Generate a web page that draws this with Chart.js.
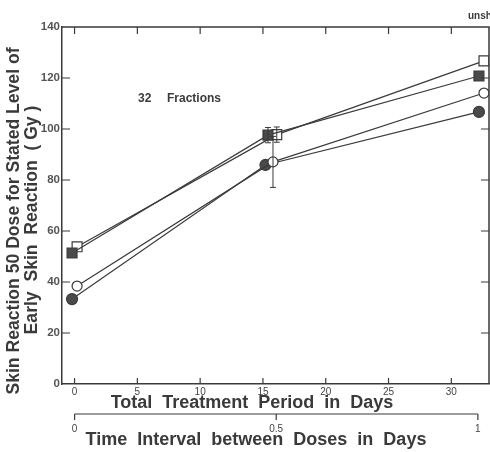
<!DOCTYPE html>
<html>
<head>
<meta charset="utf-8">
<script src="https://cdn.jsdelivr.net/npm/chart.js@4.4.1/dist/chart.umd.min.js"></script>
<style>
    html, body { margin: 0; padding: 0; background: #fff; }
    #wrap { width: 490px; height: 452px; position: relative; }
</style>
</head>
<body>
<div id="wrap"><canvas id="chart"></canvas></div>
<script>
// Days of treatment for each series (markers are slightly offset in the original)
const filledSquareDays = [-0.2, 15.4, 32.2];
const openSquareDays = [0.2, 16.1, 32.6];
const openCircleDays = [0.2, 15.8, 32.6];
const filledCircleDays = [-0.2, 15.2, 32.2];

// Skin reaction 50 dose (Gy)
const filledSquareDose = [51.4, 97.6, 120.8];
const openSquareDose = [53.8, 97.8, 126.7];
const openCircleDose = [38.4, 87.1, 114.1];
const filledCircleDose = [33.3, 85.9, 106.7];

// Error bar half-widths (Gy)
const filledSquareErr = [0, 3, 0];
const openSquareErr = [0, 3, 0];
const openCircleErr = [0, 10, 0];
const filledCircleErr = [0, 0, 0];

// Tick labels
const dayTicks = [0, 5, 10, 15, 20, 25, 30];
const intervalTicks = [0, 0.5, 1];
const doseTicks = [0, 20, 40, 60, 80, 100, 120, 140];

// Axis titles
const yTitle = ['Skin Reaction 50 Dose for Stated Level of', 'Early  Skin  Reaction  ( Gy )'];
const xTitle = 'Total  Treatment  Period  in  Days';
const x2Title = 'Time  Interval  between  Doses  in  Days';

const INK = '#3a3a3a';
const FONT = "'Liberation Sans', Arial, Helvetica, sans-serif";

function toPoints(days, dose) {
    return days.map((d, i) => ({ x: d, y: dose[i] }));
}

function series(label, days, dose, err, style, filled, radius) {
    return {
        label: label,
        data: toPoints(days, dose),
        errors: err,
        showLine: true,
        borderColor: INK,
        borderWidth: 1.2,
        pointStyle: style,
        pointRadius: radius,
        pointBorderWidth: 1.2,
        pointBorderColor: INK,
        pointBackgroundColor: filled ? '#4a4a4a' : '#ffffff'
    };
}

// Frame, inward ticks, second time axis, error bars, titles and notes
const decorPlugin = {
    id: 'decor',
    afterDatasetsDraw(chart) {
        const ctx = chart.ctx;
        const area = chart.chartArea;
        const x = chart.scales.x;
        const y = chart.scales.y;
        const x2 = chart.scales.x2;

        ctx.save();
        ctx.strokeStyle = INK;

        // error bars
        chart.data.datasets.forEach((ds, di) => {
            const meta = chart.getDatasetMeta(di);
            ds.data.forEach((p, i) => {
                const e = ds.errors[i];
                if (!e) return;
                const px = meta.data[i].x;
                const top = y.getPixelForValue(p.y + e);
                const bot = y.getPixelForValue(p.y - e);
                ctx.lineWidth = 1;
                ctx.beginPath();
                ctx.moveTo(px, top); ctx.lineTo(px, bot);
                ctx.moveTo(px - 3, top); ctx.lineTo(px + 3, top);
                ctx.moveTo(px - 3, bot); ctx.lineTo(px + 3, bot);
                ctx.stroke();
            });
        });

        // top and right frame
        ctx.lineWidth = 1.5;
        ctx.beginPath();
        ctx.moveTo(area.left, area.top);
        ctx.lineTo(area.right, area.top);
        ctx.lineTo(area.right, area.bottom);
        ctx.stroke();

        // inward ticks on all four sides
        ctx.lineWidth = 1.2;
        ctx.beginPath();
        dayTicks.forEach(v => {
            const px = x.getPixelForValue(v);
            ctx.moveTo(px, area.bottom); ctx.lineTo(px, area.bottom - 6);
            ctx.moveTo(px, area.top); ctx.lineTo(px, area.top + 7);
        });
        doseTicks.forEach(v => {
            if (v === 0 || v === 140) return;
            const py = y.getPixelForValue(v);
            ctx.moveTo(area.left, py); ctx.lineTo(area.left + 8, py);
            ctx.moveTo(area.right, py); ctx.lineTo(area.right - 8, py);
        });
        ctx.stroke();

        // second axis: time interval between doses
        const x2a = x2.getPixelForValue(intervalTicks[0]);
        const x2b = x2.getPixelForValue(intervalTicks[intervalTicks.length - 1]);
        ctx.beginPath();
        ctx.moveTo(x2a, x2.top); ctx.lineTo(x2b, x2.top);
        intervalTicks.forEach(v => {
            const px = x2.getPixelForValue(v);
            ctx.moveTo(px, x2.top); ctx.lineTo(px, x2.top + 6);
        });
        ctx.stroke();

        // axis titles
        ctx.fillStyle = INK;
        ctx.textBaseline = 'middle';
        ctx.textAlign = 'center';
        ctx.font = 'bold 18px ' + FONT;
        ctx.fillText(xTitle, 252, x.bottom - 11);
        ctx.fillText(x2Title, 256, x2.bottom - 12);

        ctx.save();
        ctx.font = 'bold 17.6px ' + FONT;
        ctx.translate(0, 221);
        ctx.rotate(-Math.PI / 2);
        ctx.fillText(yTitle[0], 0, 14);
        ctx.fillText(yTitle[1], 1, 32);
        ctx.restore();

        // annotations
        ctx.textAlign = 'left';
        ctx.font = 'bold 12px ' + FONT;
        const nx = x.getPixelForValue(5.05);
        const ny = y.getPixelForValue(111.8);
        ctx.fillText('32', nx, ny);
        ctx.fillText('Fractions', nx + 29, ny);
        ctx.font = 'bold 10px ' + FONT;
        ctx.fillText('unsh', 468, 16);
        ctx.restore();
    }
};

const ctx = document.getElementById('chart').getContext('2d');
new Chart(ctx, {
    type: 'scatter',
    data: {
        datasets: [
            series('Filled square', filledSquareDays, filledSquareDose, filledSquareErr, 'rect', true, 7),
            series('Open square', openSquareDays, openSquareDose, openSquareErr, 'rect', false, 7),
            series('Open circle', openCircleDays, openCircleDose, openCircleErr, 'circle', false, 5),
            series('Filled circle', filledCircleDays, filledCircleDose, filledCircleErr, 'circle', true, 5.5)
        ]
    },
    options: {
        responsive: true,
        maintainAspectRatio: false,
        animation: false,
        layout: { autoPadding: false, padding: { top: 27, right: 1, left: 0, bottom: 0 } },
        plugins: {
            legend: { display: false },
            tooltip: { enabled: false }
        },
        scales: {
            x: {
                type: 'linear',
                position: 'bottom',
                min: -1,
                max: 33,
                afterBuildTicks: (scale) => { scale.ticks = dayTicks.map(v => ({ value: v })); },
                afterFit: (scale) => { scale.height = 30; scale.paddingLeft = 0; scale.paddingRight = 0; },
                grid: { display: false, drawTicks: false },
                border: { display: true, color: INK, width: 1.5 },
                ticks: { color: '#444', padding: 2, maxRotation: 0, font: { family: FONT, size: 10 } }
            },
            x2: {
                type: 'linear',
                position: 'bottom',
                min: -0.0312,
                max: 1.0276,
                afterBuildTicks: (scale) => { scale.ticks = intervalTicks.map(v => ({ value: v })); },
                afterFit: (scale) => { scale.height = 38; scale.paddingLeft = 0; scale.paddingRight = 0; },
                grid: { display: false, drawTicks: false },
                border: { display: false },
                ticks: {
                    color: '#444',
                    padding: 9,
                    maxRotation: 0,
                    font: { family: FONT, size: 10 },
                    callback: (v) => String(v)
                }
            },
            y: {
                type: 'linear',
                min: 0,
                max: 140,
                afterBuildTicks: (scale) => { scale.ticks = doseTicks.map(v => ({ value: v })); },
                afterFit: (scale) => { scale.width = 62; },
                grid: { display: false, drawTicks: false },
                border: { display: true, color: INK, width: 1.5 },
                ticks: { color: '#555', padding: 2, font: { family: FONT, size: 11.5, weight: 'bold' } }
            }
        }
    },
    plugins: [decorPlugin]
});
</script>
</body>
</html>
